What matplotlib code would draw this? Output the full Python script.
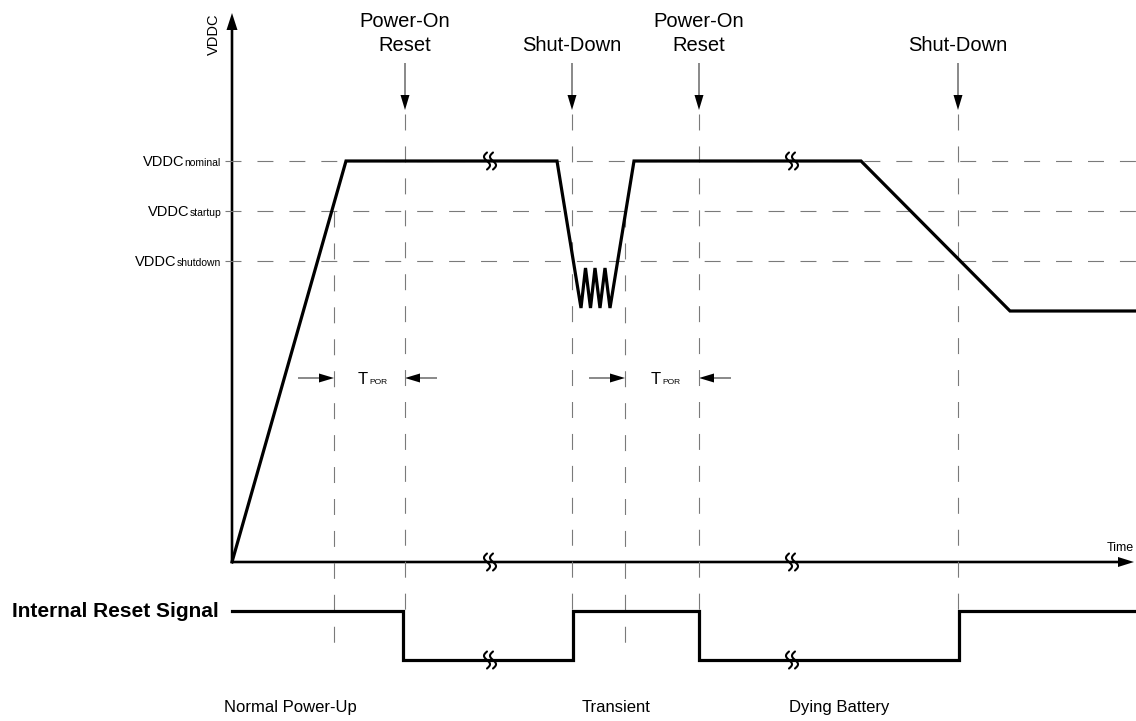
import matplotlib
matplotlib.use('Agg')
import matplotlib.pyplot as plt
import numpy as np

plt.rcParams['font.family'] = ['Liberation Sans', 'DejaVu Sans']
plt.rcParams['lines.scale_dashes'] = False

# ---------------- data (diagram coordinates, y grows downward) ----------------
axis_x0, axis_y0 = 232, 562          # origin of VDDC / Time axes
axis_top, axis_right = 13, 1134

level_names = ['nominal', 'startup', 'shutdown']
level_y = [161, 211, 261]

vddc_x = [232, 346, 557, 581, 585.5, 590.5, 595, 600, 605, 610, 634, 861, 1010, 1136]
vddc_y = [562, 161, 161, 308, 268, 308, 268, 308, 268, 308, 161, 161, 311, 311]

reset_x = [232, 403, 403, 573, 573, 699, 699, 959, 959, 1136]
reset_y = [611, 611, 660, 660, 611, 611, 660, 660, 611, 611]

event_x = [405, 572, 699, 958]
event_labels = [['Power-On', 'Reset'], ['Shut-Down'], ['Power-On', 'Reset'], ['Shut-Down']]
startup_cross_x = [334, 625]
tpor_spans = [(334, 405), (625, 699)]
tpor_text_x = [358, 651]
break_x = [490, 792]
break_y = [161, 562, 660]
phase_x = [290, 616, 839]
phase_labels = ['Normal Power-Up', 'Transient', 'Dying Battery']

# ---------------- figure ----------------
fig = plt.figure(figsize=(11.36, 7.21), dpi=100)
ax = fig.add_axes([0, 0, 1, 1])
ax.set_xlim(0, 1136)
ax.set_ylim(721, 0)
ax.axis('off')

gray = '#7a7a7a'
dash = (11.5, 11.5)

# horizontal reference levels
for y in level_y:
    ax.plot([225, 1136], [y, y], color=gray, lw=0.8, dashes=dash)

# vertical dashed markers
for x in event_x:
    ax.plot([x, x], [114, 610], color=gray, lw=0.8, dashes=dash)
for x in startup_cross_x:
    ax.plot([x, x], [level_y[1], 648], color=gray, lw=0.8, dashes=dash)

# axes arrows
ax.arrow(axis_x0, axis_y0, 0, axis_top - axis_y0, width=2.6, head_width=11,
         head_length=17, length_includes_head=True, color='black', lw=0)
ax.arrow(axis_x0, axis_y0, axis_right - axis_x0, 0, width=2.6, head_width=10,
         head_length=16, length_includes_head=True, color='black', lw=0)

# waveforms
ax.plot(vddc_x, vddc_y, color='black', lw=2.3, solid_joinstyle='miter')
ax.plot(reset_x, reset_y, color='black', lw=2.3, solid_joinstyle='miter')

# event arrows and labels
for x, lines in zip(event_x, event_labels):
    ax.arrow(x, 63, 0, 47, width=0.9, head_width=9, head_length=15,
             length_includes_head=True, color='black', lw=0)
    bases = [27, 51] if len(lines) == 2 else [51]
    for txt, b in zip(lines, bases):
        ax.text(x, b, txt, fontsize=14.5, ha='center', va='baseline')

# T_POR arrows
for (a, b) in tpor_spans:
    ax.arrow(a - 36, 378, 36, 0, width=0.9, head_width=9, head_length=15,
             length_includes_head=True, color='black', lw=0)
    ax.arrow(b + 32, 378, -32, 0, width=0.9, head_width=9, head_length=15,
             length_includes_head=True, color='black', lw=0)

# break marks (two S-shaped strokes)
t = np.linspace(-1, 1, 60)
for bx in break_x:
    for by in break_y:
        for off in (-3.0, 3.0):
            ax.plot(bx + off + 3.0 * np.sin(np.pi * t), by + 8.5 * t,
                    color='black', lw=1.5, solid_capstyle='round')

# texts
ax.text(214, 34, 'VDDC', rotation=90, fontsize=10.5, ha='center', va='center')
ax.text(axis_right, 551, 'Time', fontsize=9, ha='right', va='baseline')
ax.text(12, 617, 'Internal Reset Signal', fontsize=15, fontweight='bold',
        ha='left', va='baseline')
for x, s in zip(phase_x, phase_labels):
    ax.text(x, 712, s, fontsize=12, ha='center', va='baseline')

fig.canvas.draw()
r = fig.canvas.get_renderer()

# level labels with baseline-aligned small suffix
for name, y in zip(level_names, level_y):
    small = ax.text(221, y + 5, name, fontsize=7.5, ha='right', va='baseline')
    w = small.get_window_extent(r).width
    ax.text(221 - w, y + 5, 'VDDC', fontsize=10.5, ha='right', va='baseline')

# T_POR labels
for x in tpor_text_x:
    big = ax.text(x, 384, 'T', fontsize=12, ha='left', va='baseline')
    w = big.get_window_extent(r).width
    ax.text(x + w + 1.5, 384, 'POR', fontsize=6, ha='left', va='baseline')

fig.savefig('out.png', dpi=100)
